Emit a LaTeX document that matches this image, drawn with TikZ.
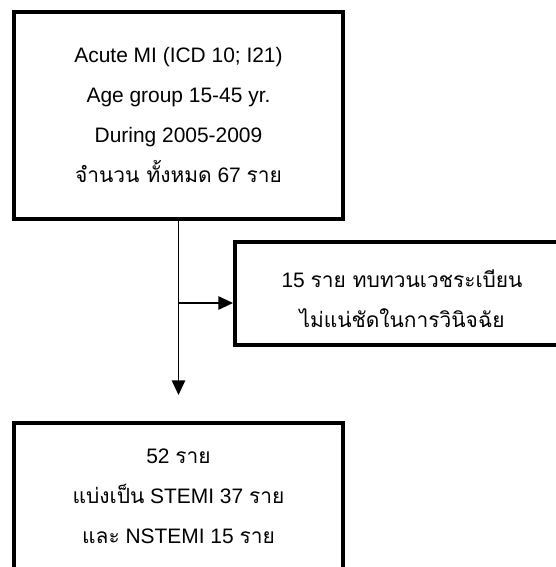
\documentclass[tikz,border=0pt]{standalone}
\usepackage{fontspec}
\setmainfont{Liberation Sans}
\newfontfamily\thaifont[Script=Thai]{Loma}
\newcommand{\thtext}[1]{{\thaifont #1}}
\usetikzlibrary{arrows.meta}

\begin{document}
\begin{tikzpicture}[x=0.75pt,y=0.75pt,yscale=-1,xscale=1,
  flowbox/.style={draw, line width=3pt, align=center, inner sep=0pt,
    font=\fontsize{15.7pt}{30pt}\selectfont},
  flowline/.style={line width=1.3pt, -{Triangle[length=11pt,width=10pt]}}]
\useasboundingbox (0,0) rectangle (556,567);
\clip (0,0) rectangle (556,567);
% boxes
\node[flowbox, minimum width=246.75pt, minimum height=155.25pt] (total) at (178.5,115.5)
  {Acute MI (ICD 10; I21)\\Age group 15-45 yr.\\During 2005-2009\\\thtext{จำนวน ทั้งหมด} 67 \thtext{ราย}};
\node[flowbox, minimum width=250.5pt, minimum height=77.25pt] (excluded) at (402,293.5)
  {\rule{0pt}{21pt}15 \thtext{ราย ทบทวนเวชระเบียน}\\\thtext{ไม่แน่ชัดในการวินิจฉัย}};
\node[flowbox, minimum width=246.75pt, minimum height=139.5pt] (included) at (178.5,516)
  {52 \thtext{ราย}\\\thtext{แบ่งเป็น} STEMI 37 \thtext{ราย}\\\thtext{และ} NSTEMI 15 \thtext{ราย}\\\mbox{}};
% connectors
\coordinate (branch) at (178.5,303);
\coordinate (tip) at (178.5,395);
\draw[line width=1.3pt] (total.south) -- (branch);
\draw[flowline] (branch) -- (tip);
\draw[flowline] (branch) -- (branch -| excluded.west);
\end{tikzpicture}
\end{document}
